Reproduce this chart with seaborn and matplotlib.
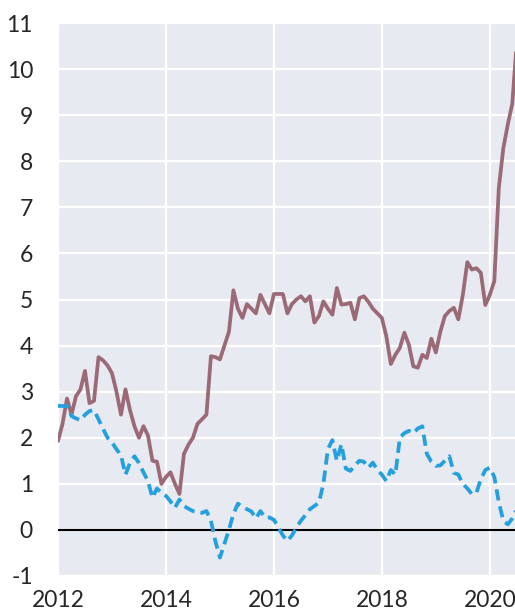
import numpy as np
import pandas as pd
import matplotlib
matplotlib.use("Agg")
import matplotlib.pyplot as plt
import seaborn as sns

# -----------------------------
# DATA (monthly, Jan 2012 onwards)
# -----------------------------
start_year = 2012

solid_vals = [
    1.93, 2.3, 2.85, 2.5, 2.9, 3.05, 3.45, 2.75, 2.8, 3.75, 3.68, 3.57,
    3.4, 3.0, 2.5, 3.05, 2.6, 2.25, 2.0, 2.25, 2.05, 1.5, 1.48, 1.0,
    1.15, 1.25, 1.0, 0.78, 1.65, 1.85, 2.0, 2.3, 2.4, 2.5, 3.77, 3.75,
    3.7, 4.0, 4.3, 5.2, 4.8, 4.6, 4.9, 4.8, 4.7, 5.1, 4.9, 4.7,
    5.12, 5.12, 5.12, 4.7, 4.9, 5.0, 5.07, 4.96, 5.07, 4.5, 4.64, 4.96,
    4.8, 4.67, 5.25, 4.89, 4.9, 4.93, 4.57, 5.03, 5.07, 4.95, 4.8, 4.7,
    4.6, 4.2, 3.6, 3.8, 3.95, 4.28, 4.02, 3.55, 3.52, 3.8, 3.73, 4.15,
    3.85, 4.3, 4.64, 4.75, 4.82, 4.57, 5.1, 5.81, 5.65, 5.68, 5.58, 4.88,
    5.1, 5.4, 7.42, 8.28, 8.8, 9.25, 10.6,
]

dashed_vals = [
    2.69, 2.69, 2.69, 2.47, 2.42, 2.38, 2.5, 2.58, 2.6, 2.4, 2.2, 2.0,
    1.9, 1.75, 1.62, 1.2, 1.45, 1.6, 1.45, 1.25, 1.06, 0.7, 0.9, 0.8,
    0.74, 0.62, 0.48, 0.66, 0.52, 0.46, 0.41, 0.39, 0.37, 0.41, 0.2, -0.25,
    -0.6, -0.3, 0.0, 0.35, 0.57, 0.5, 0.45, 0.4, 0.25, 0.41, 0.27, 0.27,
    0.22, 0.05, -0.12, -0.24, -0.12, 0.05, 0.2, 0.32, 0.45, 0.52, 0.59, 1.0,
    1.75, 1.95, 1.5, 1.86, 1.33, 1.28, 1.4, 1.5, 1.48, 1.35, 1.46, 1.3,
    1.2, 1.06, 1.3, 1.2, 2.0, 2.1, 2.15, 2.1, 2.2, 2.25, 1.65, 1.48,
    1.39, 1.4, 1.5, 1.6, 1.24, 1.2, 1.0, 0.9, 0.78, 0.8, 1.1, 1.3,
    1.35, 1.15, 0.6, 0.2, 0.12, 0.25, 0.45,
]

year_ticks = [2012, 2014, 2016, 2018, 2020]
y_ticks = list(range(-1, 12))

dates = [start_year + m / 12 for m in range(len(solid_vals))]
df = pd.DataFrame({"date": dates, "solid": solid_vals, "dashed": dashed_vals})

# -----------------------------
# PLOT
# -----------------------------
sns.set_style("darkgrid", {"axes.facecolor": "#e8eaf1", "grid.color": "white"})
plt.rcParams["font.family"] = ["Lato", "DejaVu Sans"]

fig = plt.figure(figsize=(5.15, 6.16), dpi=100)
ax = fig.add_axes([58 / 515, 1 - 576 / 616, 1 - 58 / 515, (576 - 23) / 616])

ax.axhline(0, color="black", lw=1.5, zorder=2)
sns.lineplot(data=df, x="date", y="solid", ax=ax, color="#9b6a76", lw=2.7, zorder=3)
sns.lineplot(data=df, x="date", y="dashed", ax=ax, color="#23a0dd", lw=2.7,
             dashes=False, zorder=3).lines[-1].set_dashes([3.0, 1.6])

ax.set_xlim(2012, 2012 + 101.6 / 12)
ax.set_ylim(-1, 11)
ax.set_xticks(year_ticks)
ax.set_xticklabels([str(y) for y in year_ticks])
ax.set_yticks(y_ticks)
ax.set_yticklabels([str(v) for v in y_ticks])
ax.tick_params(axis="y", labelsize=16.5, pad=18, length=0)
ax.tick_params(axis="x", labelsize=16.5, pad=10, length=0)
ax.set_xlabel("")
ax.set_ylabel("")
ax.grid(True, color="white", lw=1.6)
for s in ax.spines.values():
    s.set_visible(False)

fig.savefig("out.png", dpi=100)
plt.close()
